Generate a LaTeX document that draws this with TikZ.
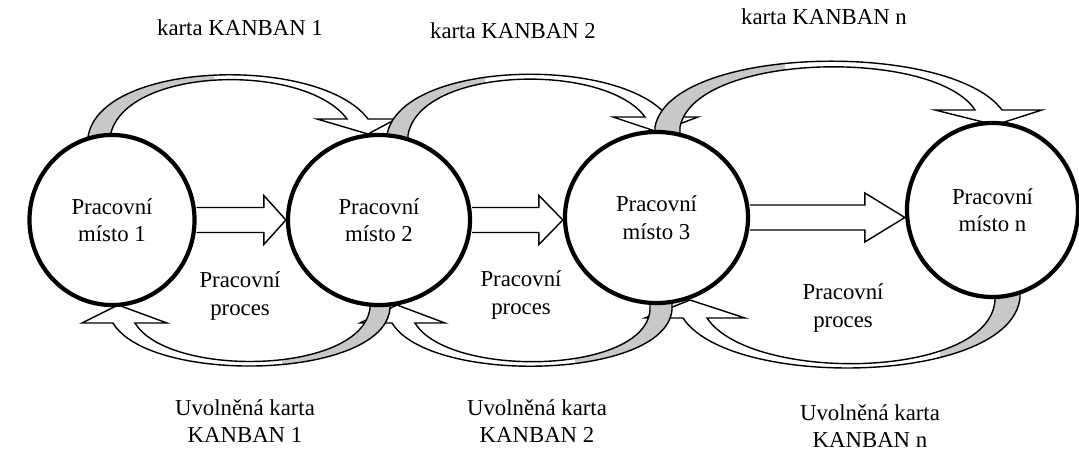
\documentclass[tikz,border=0pt]{standalone}
\usepackage{fontspec}
\setmainfont{Liberation Serif}
\usetikzlibrary{shapes.geometric,calc}
\definecolor{cardgray}{RGB}{200,200,200}
\newcommand{\cardloop}[2]{%
  \fill[white] #1;
  \begin{scope}
    \clip #2;
    \fill[cardgray] #1;
  \end{scope}
  \draw[ribbon] #1;}
\newcommand{\pushflow}[3]{%
  \coordinate (#2tip) at (#2.west |- #1.east);
  \draw[flow] ($(#1.east)+(0,-12.5)$) -- ($(#2tip)+(-#3,-12.5)$) -- ++(0,-12)
    -- (#2tip) -- ($(#2tip)+(-#3,24.5)$) -- ++(0,-12) -- ($(#1.east)+(0,12.5)$);}
\begin{document}
\begin{tikzpicture}[x=0.025cm,y=-0.025cm,
  station/.style={ellipse,draw,line width=3pt,fill=white,inner sep=0pt,
    align=center,font=\fontsize{16.2}{19.5}\selectfont},
  kanbantext/.style={align=center,inner sep=0pt,font=\fontsize{16.2}{19.5}\selectfont},
  ribbon/.style={line width=1pt},
  flow/.style={line width=1pt}]
\useasboundingbox (0,0) rectangle (1079,452);

\cardloop{(88,150) -- (88,137) .. controls (100,60) and (320,55) .. (368,119)
  -- (396,119) -- (368,134) -- (317,119) -- (347,119)
  .. controls (305,62) and (122,66) .. (110,137) -- (110,150) -- cycle}
  {(0,0) rectangle (214,200)}
\cardloop{(387,150) -- (387,135) .. controls (400,60) and (620,55) .. (668,117)
  -- (698,117) -- (658,132) -- (613,117) -- (645,117)
  .. controls (605,62) and (420,66) .. (408,135) -- (408,150) -- cycle}
  {(300,0) rectangle (485,200)}
\cardloop{(655,145) -- (655,127) .. controls (670,45) and (950,40) .. (1002,110)
  -- (1042,110) -- (995,125) -- (935,110) -- (975,110)
  .. controls (935,48) and (695,52) .. (680,127) -- (680,145) -- cycle}
  {(600,0) rectangle (785,200)}

\cardloop{(1020,285) -- (1020,298) .. controls (1010,385) and (730,390) .. (683,318)
  -- (645,318) -- (690,300) -- (745,318) -- (707,318)
  .. controls (750,383) and (990,380) .. (995,300) -- (995,285) -- cycle}
  {(940,250) rectangle (1079,452)}
\cardloop{(672,295) -- (672,310) .. controls (665,380) and (430,385) .. (392,323)
  -- (360,323) -- (397,305) -- (445,323) -- (415,323)
  .. controls (448,378) and (645,375) .. (650,310) -- (650,295) -- cycle}
  {(575,250) rectangle (700,452)}
\cardloop{(390,295) -- (390,308) .. controls (385,380) and (150,385) .. (113,323)
  -- (82,323) -- (118,305) -- (167,323) -- (135,323)
  .. controls (168,378) and (362,375) .. (370,308) -- (370,295) -- cycle}
  {(282,250) rectangle (420,452)}

\node[station,minimum width=4.125cm,minimum height=4.25cm] (m1) at (112,220) {Pracovní\\místo 1};
\node[station,minimum width=4.55cm,minimum height=4.25cm] (m2) at (379,220) {Pracovní\\místo 2};
\node[station,minimum width=4.575cm,minimum height=4.275cm] (m3) at (656.5,217.5) {Pracovní\\místo 3};
\node[station,minimum width=4.275cm,minimum height=4.35cm] (mn) at (992.5,210) {Pracovní\\místo n};

\pushflow{m1}{m2}{22}
\pushflow{m2}{m3}{24}
\pushflow{m3}{mn}{40}

\node[kanbantext] (card1) at (240,28) {karta KANBAN 1};
\node[kanbantext] (card2) at (513,31) {karta KANBAN 2};
\node[kanbantext] (cardn) at (824,17) {karta KANBAN n};
\node[kanbantext] (proc1) at (240,296) {Pracovní\\proces};
\node[kanbantext] (proc2) at (521,295) {Pracovní\\proces};
\node[kanbantext] (proc3) at (843,308) {Pracovní\\proces};
\node[kanbantext] (free1) at (245,421) {Uvolněná karta\\KANBAN 1};
\node[kanbantext] (free2) at (537,421) {Uvolněná karta\\KANBAN 2};
\node[kanbantext] (freen) at (870,426) {Uvolněná karta\\KANBAN n};
\end{tikzpicture}
\end{document}
